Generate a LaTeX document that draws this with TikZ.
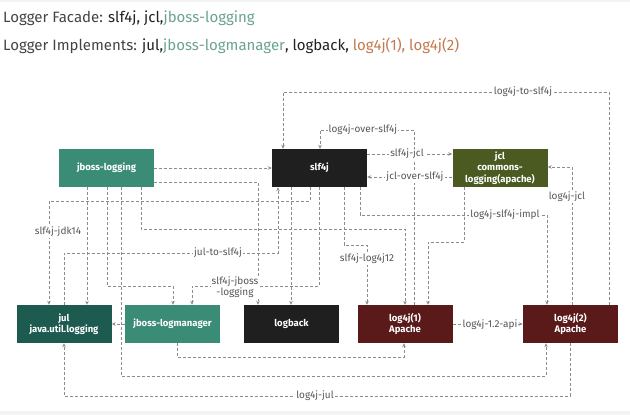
\documentclass[tikz,border=0pt]{standalone}
\usepackage{fontspec}
\setmainfont{Fira Sans}
\usetikzlibrary{arrows.meta}
\definecolor{tealA}{HTML}{3B8C77}
\definecolor{tealB}{HTML}{1D5B50}
\definecolor{darkbox}{HTML}{1F1F1F}
\definecolor{olive}{HTML}{4A5A20}
\definecolor{wine}{HTML}{5B1A1A}
\definecolor{lineg}{HTML}{8C8C8C}
\definecolor{lblg}{HTML}{555555}
\definecolor{facet}{HTML}{6AA394}
\definecolor{orng}{HTML}{C47A50}
\definecolor{bandg}{HTML}{F2F3F5}
\definecolor{txtg}{HTML}{444444}
\definecolor{txtk}{HTML}{222222}
\begin{document}
\begin{tikzpicture}[x=1pt,y=-1pt,
  box/.style={minimum width=95pt,minimum height=38pt,inner sep=0pt,text=white,
    font=\fontsize{9.5}{11.5}\selectfont\bfseries,align=center},
  conn/.style={draw=lineg,line width=0.7pt,dash pattern=on 3pt off 2pt},
  arr/.style={conn,-{Stealth[length=4pt,width=3.5pt]}},
  lbl/.style={fill=white,text=lblg,inner sep=1pt,font=\fontsize{10}{11}\selectfont,align=center},
  ttl/.style={anchor=base west,inner sep=0pt,font=\fontsize{15}{17}\selectfont}]
\useasboundingbox (0,0) rectangle (630,415);
\fill[white] (0,0) rectangle (630,415);
\fill[bandg] (0,411) rectangle (630,415);
\fill[bandg] (0,0) rectangle (630,2);

\node[ttl] (t1) at (3,23) {\textcolor{txtg}{Logger Facade:} \textcolor{txtk}{slf4j, jcl,}\textcolor{facet}{jboss-logging}};
\node[ttl] (t2) at (3,50) {\textcolor{txtg}{Logger Implements:} \textcolor{txtk}{jul,}\textcolor{facet}{jboss-logmanager}\textcolor{txtk}{, logback,} \textcolor{orng}{log4j(1), log4j(2)}};

\node[box,fill=tealA] (jbl) at (106.5,168) {jboss-logging};
\node[box,fill=darkbox] (slf) at (319.5,168) {slf4j};
\node[box,fill=olive] (jcl) at (500,168) {jcl\\commons-\\logging(apache)};
\node[box,fill=tealB] (jul) at (64,324) {jul\\java.util.logging};
\node[box,fill=tealA] (jbm) at (172.5,324) {jboss-logmanager};
\node[box,fill=darkbox] (lb) at (291.5,324) {logback};
\node[box,fill=wine] (l1) at (405,324) {log4j(1)\\Apache};
\node[box,fill=wine] (l2) at (570.5,324) {log4j(2)\\Apache};

% connectors
\draw[arr] (l2.north -| 609,0) -- (609,92) -- (283,92) -- (slf.north -| 283,0);
\draw[arr] (l1.north -| 414,0) -- (414,130) -- (320,130) -- (slf.north -| 320,0);
\draw[arr] (slf.east |- 0,154) -- (jcl.west |- 0,154);
\draw[arr] (jcl.west |- 0,177) -- (slf.east |- 0,177);
\draw[arr] (jbl.east |- 0,168) -- (slf.west |- 0,168);
\draw[arr] (jbl.east |- 0,182) -- (258,182) -- (lb.north -| 258,0);
\draw[arr] (slf.south -| 310,0) -- (310,201) -- (49,201) -- (jul.north -| 49,0);
\draw[arr] (jul.north -| 64,0) -- (64,253) -- (278,253) -- (slf.south -| 278,0);
\draw[arr] (slf.south -| 319,0) -- (319,286) -- (192,286) -- (jbm.north -| 192,0);
\draw[arr] (jbl.south -| 107,0) -- (107,286) -- (173,286) -- (jbm.north -| 173,0);
\draw[arr] (jbl.south -| 87,0) -- (jul.north -| 87,0);
\draw[arr] (jbl.south -| 121,0) -- (121,376) -- (546,376) -- (l2.south -| 546,0);
\draw[arr] (jbl.south -| 141,0) -- (141,229) -- (405,229) -- (l1.north -| 405,0);
\draw[arr] (l2.south -| 570,0) -- (570,396) -- (64,396) -- (jul.south -| 64,0);
\draw[arr] (jbm.south -| 177,0) -- (177,357) -- (404,357) -- (l1.south -| 404,0);
\draw[arr] (l1.east) -- (l2.west);
\draw[arr] (jbm.west) -- (jul.east);
\draw[arr] (slf.south -| 344,0) -- (344,245) -- (367,245) -- (l1.north -| 367,0);
\draw[arr] (slf.south -| 360,0) -- (360,215) -- (547,215) -- (l2.north -| 547,0);
\draw[arr] (jcl.south -| 464,0) -- (464,242) -- (428,242) -- (l1.north -| 428,0);
\draw[arr] (l2.north -| 572,0) -- (572,167) -- (jcl.east |- 0,167);
\draw[arr] (slf.south -| 291,0) -- (lb.north -| 291,0);

% labels
\node[lbl] (n1) at (523,92) {log4j-to-slf4j};
\node[lbl] (n2) at (363,130) {log4j-over-slf4j};
\node[lbl] (n3) at (407,154) {slf4j-jcl};
\node[lbl] (n4) at (415,177) {jcl-over-slf4j};
\node[lbl] (n5) at (58,232) {slf4j-jdk14};
\node[lbl] (n6) at (218,253) {jul-to-slf4j};
\node[lbl] (n7) at (235,287.5) {slf4j-jboss\\-logging};
\node[lbl] (n8) at (367,259) {slf4j-log4j12};
\node[lbl] (n9) at (505,215) {log4j-slf4j-impl};
\node[lbl] (n10) at (567,197) {log4j-jcl};
\node[lbl] (n11) at (490,325) {log4j-1.2-api};
\node[lbl] (n12) at (315,396) {log4j-jul};
\end{tikzpicture}
\end{document}
